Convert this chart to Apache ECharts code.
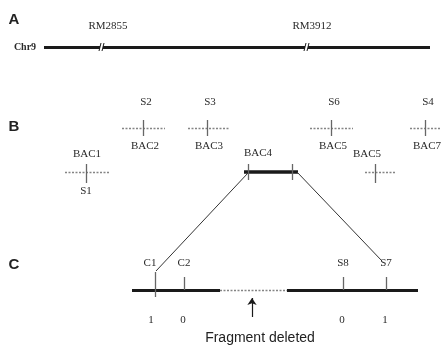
<!DOCTYPE html>
<html><head><meta charset="utf-8">
<script src="https://cdn.jsdelivr.net/npm/echarts@6/dist/echarts.min.js"></script>
<style>html,body{margin:0;padding:0;background:#fff}#c{width:441px;height:349px}</style>
</head><body><div id="c"></div>
<script>
// ---- data (diagram units, 1 unit = 1 px) ----
const panelLabels = ['A', 'B', 'C'];
const chrName = 'Chr9';
const chrSpan = [44, 430];
const rmMarkers = ['RM2855', 'RM3912'];
const rmPos = [102, 307];

// BAC clones: name, SNP marker, cross position, dotted span, row
const bacNames   = ['BAC1', 'BAC2', 'BAC3', 'BAC5', 'BAC7', 'BAC5'];
const snpNames   = ['S1',   'S2',   'S3',   'S6',   'S4',   ''];
const bacCross   = [86,     143,    207,    331,    425,    375];
const bacStart   = [65,     122,    188,    310,    410,    365];
const bacEnd     = [110,    165,    230,    353,    441,    395];
const bacRow     = [2,      1,      1,      1,      1,      2];

const bac4Name = 'BAC4';
const bac4Span = [244, 298];
const bac4Ticks = [248, 292];

// Panel C fine map
const fineSpan = [132, 418];
const deletedSpan = [220, 287];
const fineMarkers = ['C1', 'C2', 'S8', 'S7'];
const finePos = [155, 184, 343, 386];
const genotypes = ['1', '0', '0', '1'];
const deletedLabel = 'Fragment deleted';
const deletedArrowX = 252;

// ---- layout constants ----
const Y = { A: 47, row1: 128, row2: 172, C: 290 };
const ink = '#1a1a1a', grey = '#858585', txt = '#2a2a2a';
const serif = '"Liberation Serif", "DejaVu Serif", serif';
const sans = '"Liberation Sans", Arial, sans-serif';

const segs = [];
function seg(x1, y1, x2, y2, style) { segs.push({ coords: [[x1, y1], [x2, y2]], lineStyle: Object.assign({ opacity: 1 }, style) }); }
const thick = { color: ink, width: 3.2, type: 'solid' };
const thin = { color: '#333', width: 1, type: 'solid' };
const dotted = { color: grey, width: 1.3, type: [2, 1.5] };
const tick = { color: '#666', width: 1.3, type: 'solid' };

// Panel A chromosome with break marks
seg(chrSpan[0], Y.A, rmPos[0] - 2, Y.A, thick);
seg(rmPos[0] + 1, Y.A, rmPos[1] - 2, Y.A, thick);
seg(rmPos[1] + 1, Y.A, chrSpan[1], Y.A, thick);
rmPos.forEach(p => {
  seg(p - 3, Y.A + 4, p - 1, Y.A - 4, { color: ink, width: 1, type: 'solid' });
  seg(p, Y.A + 4, p + 2, Y.A - 4, { color: ink, width: 1, type: 'solid' });
});

// Panel B crosses
bacNames.forEach((n, i) => {
  const y = bacRow[i] === 1 ? Y.row1 : Y.row2;
  seg(bacStart[i], y, bacEnd[i], y, dotted);
  seg(bacCross[i], y - 8, bacCross[i], y + (bacRow[i] === 1 ? 8 : 11), tick);
});
seg(bac4Span[0], Y.row2, bac4Span[1], Y.row2, { color: ink, width: 3.6, type: 'solid' });
bac4Ticks.forEach(t => seg(t, Y.row2 - 8, t, Y.row2 + 8, tick));

// connecting lines
seg(bac4Ticks[0], Y.row2 + 1, finePos[0] + 1, 271, thin);
seg(bac4Span[1] - 1, Y.row2, finePos[3] - 4, 261, thin);

// Panel C
seg(fineSpan[0], Y.C, deletedSpan[0], Y.C, thick);
seg(deletedSpan[0], Y.C, deletedSpan[1], Y.C, dotted);
seg(deletedSpan[1], Y.C, fineSpan[1], Y.C, thick);
finePos.forEach((p, i) => seg(p, i === 0 ? 272 : 277, p, i === 0 ? 297 : Y.C, tick));

const arrow = [{ coords: [[deletedArrowX, 317], [deletedArrowX, 298]] }];

// text items
const texts = [];
function t(x, y, s, font, color) { texts.push({ value: [x, y], s, font, color: color || txt }); }
t(14, 20, panelLabels[0], 'bold 15px ' + sans, '#222');
t(14, 127, panelLabels[1], 'bold 15px ' + sans, '#222');
t(14, 265, panelLabels[2], 'bold 15px ' + sans, '#222');
t(25, 47, chrName, 'bold 10px ' + serif);
rmMarkers.forEach((m, i) => t(rmPos[i] + 6 - (i ? 1 : 0), 26, m, '11px ' + serif));
bacNames.forEach((n, i) => {
  if (bacRow[i] === 1) {
    t(bacCross[i] + 3, 102, snpNames[i], '11px ' + serif);
    t(bacCross[i] + 2, 146, n, '11px ' + serif);
  } else {
    t(bacCross[i] + (i === 5 ? -8 : 1), 154, n, '11px ' + serif);
    if (snpNames[i]) t(bacCross[i], 191, snpNames[i], '11px ' + serif);
  }
});
t(258, 153, bac4Name, '11px ' + serif);
fineMarkers.forEach((m, i) => t(finePos[i] + (i === 0 ? -5 : 0), 263, m, '11px ' + serif));
genotypes.forEach((g, i) => t(finePos[i] + (i === 0 ? -4 : -1), 320, g, '11px ' + serif));
t(260, 338, deletedLabel, '14px ' + sans, '#222');

const chart = echarts.init(document.getElementById('c'), null, { renderer: 'canvas' });
chart.setOption({
  animation: false,
  grid: { left: 0, right: 0, top: 0, bottom: 0 },
  xAxis: { type: 'value', min: 0, max: 441, show: false },
  yAxis: { type: 'value', min: 0, max: 349, inverse: true, show: false },
  series: [
    { type: 'lines', coordinateSystem: 'cartesian2d', data: segs, symbol: 'none', silent: true },
    { type: 'lines', coordinateSystem: 'cartesian2d', data: arrow, symbol: ['none', 'arrow'], symbolSize: 7,
      lineStyle: { color: ink, width: 1.2, opacity: 1 }, silent: true },
    { type: 'custom', coordinateSystem: 'cartesian2d', data: texts.map(d => d.value), silent: true,
      renderItem: function (params, api) {
        const d = texts[params.dataIndex];
        const p = api.coord([api.value(0), api.value(1)]);
        return { type: 'text', x: p[0], y: p[1],
          style: { text: d.s, font: d.font, fill: d.color, align: 'center', verticalAlign: 'middle' } };
      } }
  ]
});
</script></body></html>
